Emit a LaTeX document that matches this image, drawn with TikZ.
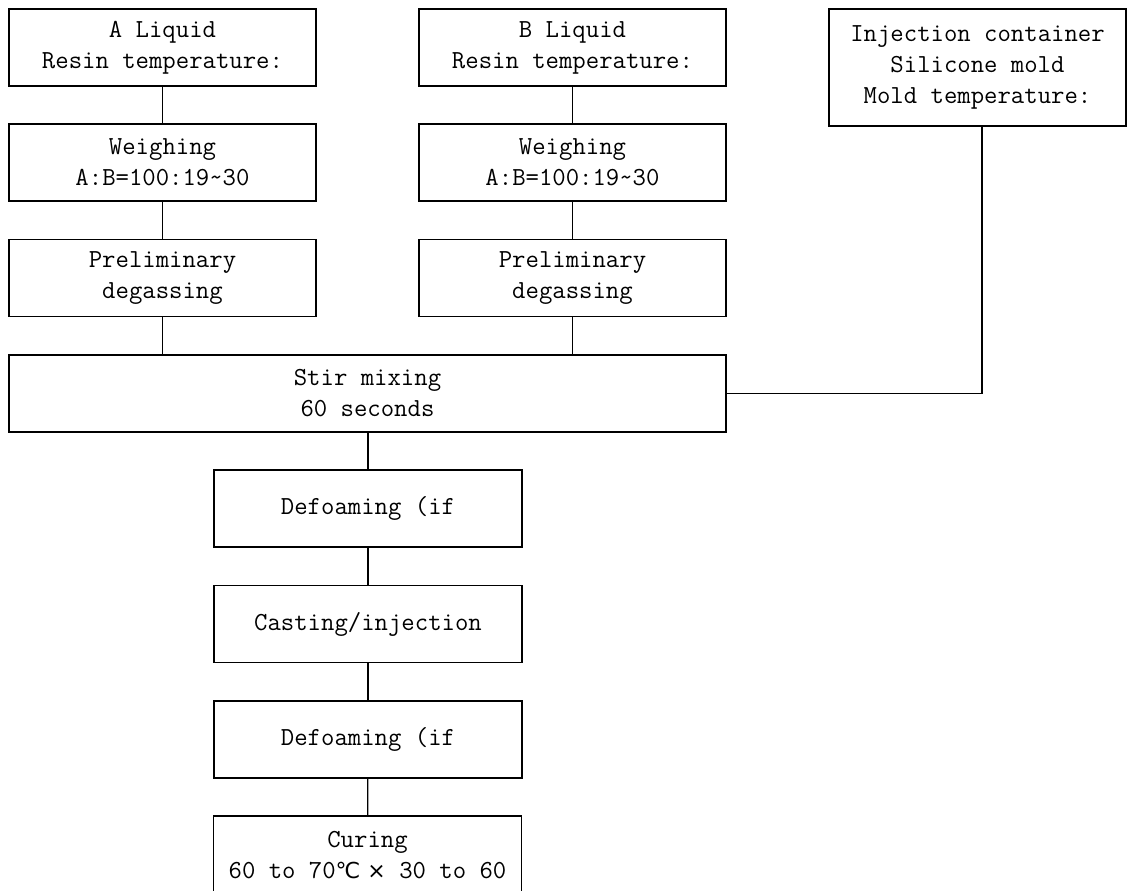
\documentclass[tikz,border=0pt]{standalone}
\usepackage{fontspec}
\usepackage{tikz}
\newfontfamily\symfont{DejaVu Sans}

\begin{document}
\begin{tikzpicture}[x=1pt,y=-1pt,
      stage/.style={draw,line width=1.3pt,inner sep=0pt,minimum width=307pt,minimum height=77pt,
         align=center,font=\ttfamily\fontsize{26}{31}\selectfont},
      link/.style={line width=1.3pt}]
      \useasboundingbox (0,0) rectangle (1136,891);

      \node[stage] (aliq)   at (162.5,47.5)  {A Liquid\\Resin temperature:};
      \node[stage] (aweigh) at (162.5,162.5) {Weighing\\A:B=100:19\textasciitilde 30};
      \node[stage] (adegas) at (162.5,278)   {Preliminary\\degassing};

      \node[stage] (bliq)   at (572.5,47.5)  {B Liquid\\Resin temperature:};
      \node[stage] (bweigh) at (572.5,162.5) {Weighing\\A:B=100:19\textasciitilde 30};
      \node[stage] (bdegas) at (572.5,278)   {Preliminary\\degassing};

      \node[stage,minimum width=297pt,minimum height=117pt] (inj) at (977.5,67.5)
         {Injection container\\Silicone mold\\Mold temperature:};

      \node[stage,minimum width=717pt] (stir) at (367.5,393.5) {Stir mixing\\60 seconds};
      \node[stage,minimum width=308pt] (defoam) at (368,508.5) {Defoaming (if};
      \node[stage,minimum width=308pt] (cast)   at (368,624)   {Casting/injection};
      \node[stage,minimum width=308pt] (defoamb) at (368,739.5) {Defoaming (if};
      \node[stage,minimum width=308pt,minimum height=78pt] (cure) at (367.5,855) {};
      \node[stage,draw=none] (curetext) at (cure)
         {Curing\\60 to 70{\symfont\fontsize{22}{31}\selectfont ℃\ ×} 30 to 60};

      \draw[link] (aliq) -- (aweigh);
      \draw[link] (aweigh) -- (adegas);
      \draw[link] (adegas) -- (adegas |- stir.north);
      \draw[link] (bliq) -- (bweigh);
      \draw[link] (bweigh) -- (bdegas);
      \draw[link] (bdegas) -- (bdegas |- stir.north);
      \draw[link] ([xshift=4.5pt]inj.south) |- (stir.east);
      \draw[link] (stir.south -| defoam) -- (defoam);
      \draw[link] (defoam) -- (cast);
      \draw[link] (cast) -- (defoamb);
      \draw[link] (defoamb) -- (cure);
   \end{tikzpicture}
\end{document}
